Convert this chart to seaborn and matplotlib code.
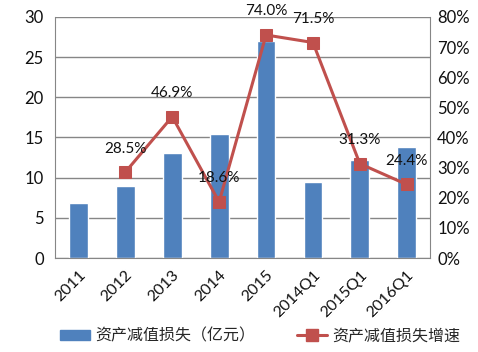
import numpy as np
import pandas as pd
import matplotlib
matplotlib.use("Agg")
import matplotlib.pyplot as plt
from matplotlib.ticker import FixedLocator, PercentFormatter
from matplotlib.lines import Line2D
from matplotlib.patches import Patch
import seaborn as sns

periods = ['2011', '2012', '2013', '2014', '2015', '2014Q1', '2015Q1', '2016Q1']
loss = [6.85, 8.95, 13.1, 15.4, 27.0, 9.5, 12.2, 13.8]          # 资产减值损失（亿元）
growth = [np.nan, 28.5, 46.9, 18.6, 74.0, 71.5, 31.3, 24.4]     # 增速 %
growth_labels = ['', '28.5%', '46.9%', '18.6%', '74.0%', '71.5%', '31.3%', '24.4%']

bar_name = '资产减值损失（亿元）'
line_name = '资产减值损失增速'
blue = '#4F81BD'
red = '#C0504D'
grey = '#868686'

sns.set_style("white")
plt.rcParams['font.family'] = ['Lato', 'Noto Sans CJK SC', 'DejaVu Sans']

df = pd.DataFrame({'期间': periods, bar_name: loss, line_name: growth})

fig = plt.figure(figsize=(4.78, 3.52), dpi=100)
ax = fig.add_axes([0.115, 0.267, 0.785, 0.685])

sns.barplot(data=df, x='期间', y=bar_name, order=periods, color=blue,
            width=0.4, saturation=1, ax=ax)
ax.set_ylim(0, 30)
ax.set_yticks([0, 5, 10, 15, 20, 25, 30])
ax.yaxis.grid(True, color=grey, linewidth=1)
ax.set_axisbelow(True)
ax.set_xlabel('')
ax.set_ylabel('')
ax.set_xlim(-0.5, len(periods) - 0.5)

ax2 = ax.twinx()
line_df = df.dropna()
xs = [periods.index(p) for p in line_df['期间']]
sns.lineplot(x=xs, y=line_df[line_name].values, color=red, linewidth=2.2,
             marker='s', markersize=9, markeredgecolor=red, ax=ax2, legend=False)
ax2.set_ylim(0, 80)
ax2.set_yticks(range(0, 81, 10))
ax2.yaxis.set_major_formatter(PercentFormatter(decimals=0))
ax2.set_xlim(-0.5, len(periods) - 0.5)

for x, v, lab in zip(range(len(periods)), growth, growth_labels):
    if lab:
        ax2.annotate(lab, (x, v), xytext=(0, 17), textcoords='offset points',
                     ha='center', va='center', fontsize=11, color='#111111')

for a in (ax, ax2):
    for s in a.spines.values():
        s.set_visible(False)
    a.tick_params(axis='y', length=0, labelsize=12, colors='#111111')
ax.spines['left'].set_visible(True)
ax.spines['left'].set_color(grey)
ax.spines['bottom'].set_visible(True)
ax.spines['bottom'].set_color(grey)
ax2.spines['right'].set_visible(True)
ax2.spines['right'].set_color(grey)
ax.tick_params(axis='y', pad=8)
ax2.tick_params(axis='y', pad=5)

ax.set_xticks(range(len(periods)))
ax.set_xticklabels(periods, rotation=45, ha='right', rotation_mode='anchor',
                   fontsize=11.5, color='#111111')
ax.tick_params(axis='x', which='major', length=0, pad=7)
ax.xaxis.set_minor_locator(FixedLocator(np.arange(-0.5, len(periods), 1.0)))
ax.tick_params(axis='x', which='minor', length=5, color=grey, direction='out')

handles = [Patch(facecolor=blue, edgecolor=blue),
           Line2D([0], [0], color=red, linewidth=2.2, marker='s', markersize=9)]
fig.legend(handles, [bar_name, line_name], loc='center left', ncol=2,
           bbox_to_anchor=(60 / 478, 16 / 352), frameon=False, fontsize=11.5,
           borderpad=0, borderaxespad=0, handlelength=1.9, handleheight=0.65,
           columnspacing=2.6, handletextpad=0.3)

fig.savefig('out.png', dpi=100)
